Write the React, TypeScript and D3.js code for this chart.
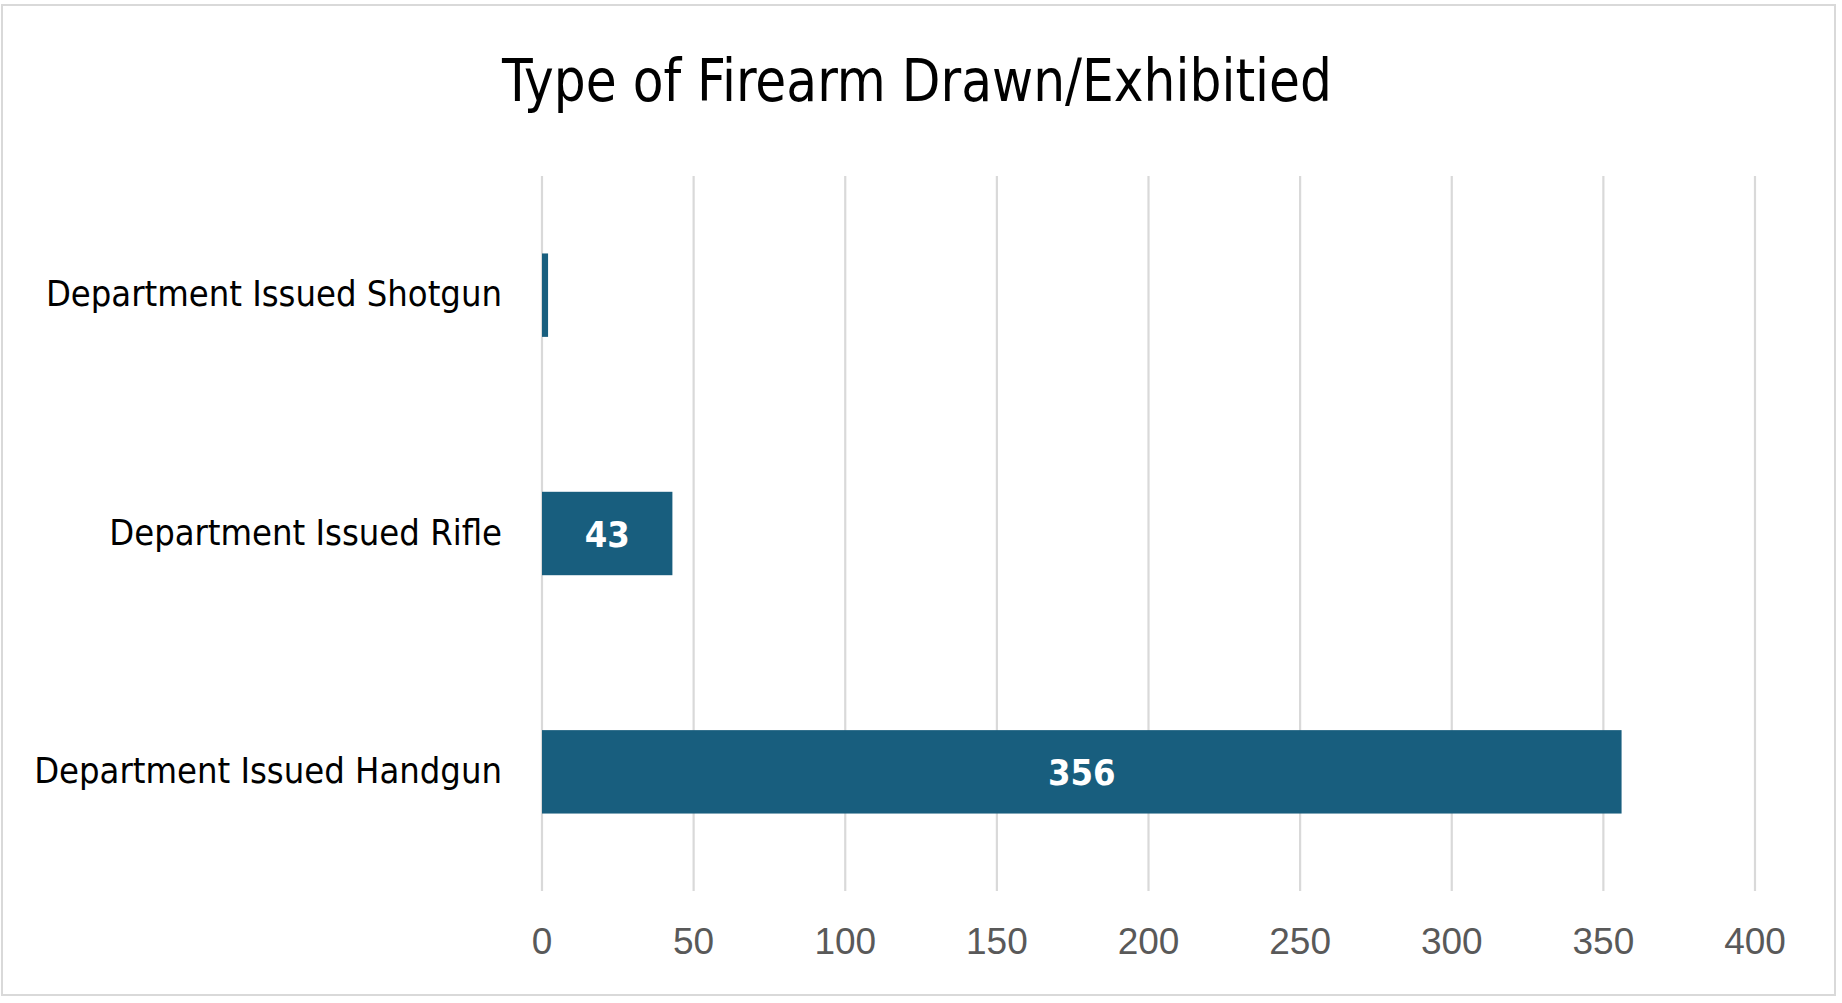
import React from 'react';
import * as d3 from 'd3';

// categories listed top to bottom, as in the reference
const categories = ['Department Issued Shotgun', 'Department Issued Rifle', 'Department Issued Handgun'];
const counts = [2, 43, 356];
const xTicks = [0, 50, 100, 150, 200, 250, 300, 350, 400];

const title = 'Type of Firearm Drawn/Exhibitied';

const width = 1842;
const height = 1003;
const plot = { left: 542, right: 1755, top: 176, bottom: 891 };

const barColor = '#185e7e';
const gridColor = '#d9d9d9';
const narrow = '"Liberation Sans Narrow", "DejaVu Sans Condensed", "Roboto", sans-serif';

const App: React.FC = () => {
  const x = d3.scaleLinear().domain([0, 400]).range([plot.left, plot.right]);
  const y = d3.scaleBand<string>()
    .domain(categories)
    .range([plot.top, plot.bottom])
    .paddingInner(0.65)
    .paddingOuter(0.325);

  const rows = categories.map((c, i) => ({ name: c, value: counts[i] }));

  return (
    <svg
      width={width}
      height={height}
      style={{ position: 'absolute', left: 0, top: 0, background: '#fff' }}
    >
      {/* chart frame */}
      <rect x={2} y={5} width={1833} height={990} fill="#fff" stroke="#d9d9d9" strokeWidth={2} />

      <text
        x={917}
        y={101}
        textAnchor="middle"
        fontFamily={narrow}
        fontSize={59}
        fill="#000"
        textLength={830}
        lengthAdjust="spacingAndGlyphs"
      >
        {title}
      </text>

      {/* vertical gridlines */}
      {xTicks.map(t => (
        <line
          key={t}
          x1={x(t)}
          x2={x(t)}
          y1={plot.top}
          y2={plot.bottom}
          stroke={gridColor}
          strokeWidth={2.2}
        />
      ))}

      {/* tick labels */}
      {xTicks.map(t => (
        <text
          key={'t' + t}
          x={x(t)}
          y={954}
          textAnchor="middle"
          fontFamily='"Liberation Sans", Arial, sans-serif'
          fontSize={37}
          fill="#595959"
        >
          {t}
        </text>
      ))}

      {/* bars */}
      {rows.map(d => (
        <rect
          key={d.name}
          x={x(0)}
          y={y(d.name)}
          width={x(d.value) - x(0)}
          height={y.bandwidth()}
          fill={barColor}
        />
      ))}

      {/* category labels */}
      {rows.map(d => (
        <text
          key={'c' + d.name}
          x={502}
          y={(y(d.name) ?? 0) + y.bandwidth() / 2 + 11}
          textAnchor="end"
          fontFamily={narrow}
          fontSize={36}
          fill="#000"
        >
          {d.name}
        </text>
      ))}

      {/* value labels inside bars, skipped where the bar is too thin */}
      {rows.filter(d => x(d.value) - x(0) > 40).map(d => (
        <text
          key={'v' + d.name}
          x={(x(0) + x(d.value)) / 2}
          y={(y(d.name) ?? 0) + y.bandwidth() / 2 + 13}
          textAnchor="middle"
          fontFamily={narrow}
          fontWeight="bold"
          fontSize={36}
          fill="#fff"
        >
          {d.value}
        </text>
      ))}
    </svg>
  );
};

export default App;
